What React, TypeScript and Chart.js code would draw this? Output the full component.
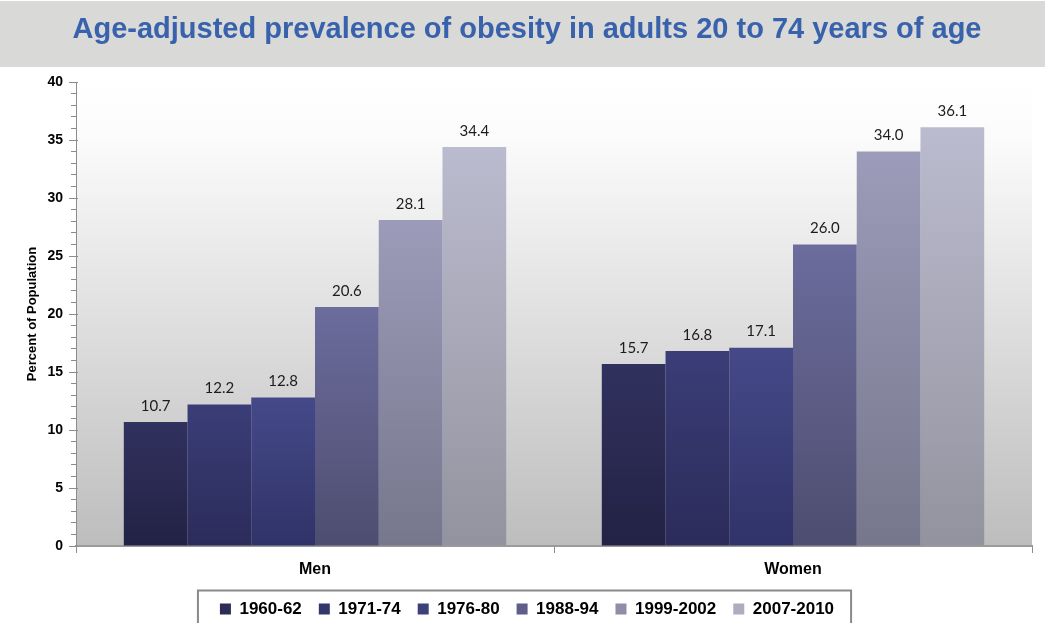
import React, { useEffect, useRef } from "react";
import { Chart, registerables } from "chart.js";

Chart.register(...registerables);

// ---- data ----
const categories = ["Men", "Women"];
const periods = ["1960-62", "1971-74", "1976-80", "1988-94", "1999-2002", "2007-2010"];
// prevalence (%) per survey period, [Men, Women]
const p1960 = [10.7, 15.7];
const p1971 = [12.2, 16.8];
const p1976 = [12.8, 17.1];
const p1988 = [20.6, 26.0];
const p1999 = [28.1, 34.0];
const p2007 = [34.4, 36.1];
const seriesValues = [p1960, p1971, p1976, p1988, p1999, p2007];

const yMin = 0;
const yMax = 40;
const yMajorStep = 5;

const titleText = "Age-adjusted prevalence of obesity in adults 20 to 74 years of age";
const yTitle = "Percent of Population";

// ---- styling ----
const barTop = ["#31315f", "#3a3d77", "#454988", "#6c6c9d", "#9c9cba", "#bbbbcf"];
const barBottom = ["#222245", "#2b2c5a", "#303368", "#4d4d70", "#76768c", "#93939f"];
const swatch = ["#2c2c57", "#34376c", "#3d4179", "#5e5e88", "#8e8ea8", "#adadbf"];
const FONT = "'Liberation Sans', Arial, sans-serif";

const backdrop = {
  id: "backdrop",
  beforeDraw(chart: any) {
    const { ctx, chartArea, width, height } = chart;
    ctx.save();
    ctx.fillStyle = "#ffffff";
    ctx.fillRect(0, 0, width, height);
    // header band behind the title
    ctx.fillStyle = "#d9d9d7";
    ctx.fillRect(0, 1, width, 66);
    // plot area wash
    const g = ctx.createLinearGradient(0, chartArea.top, 0, chartArea.bottom);
    g.addColorStop(0, "#ffffff");
    g.addColorStop(0.12, "#fbfbfb");
    g.addColorStop(0.5, "#e0e0e0");
    g.addColorStop(1, "#bdbdbd");
    ctx.fillStyle = g;
    ctx.fillRect(chartArea.left, chartArea.top, chartArea.right - chartArea.left, chartArea.bottom - chartArea.top);
    ctx.restore();
  },
};

const valueLabels = {
  id: "valueLabels",
  afterDatasetsDraw(chart: any) {
    const { ctx } = chart;
    ctx.save();
    ctx.font = "15px Lato, 'Open Sans', sans-serif";
    ctx.fillStyle = "#1c1c1c";
    ctx.textAlign = "center";
    ctx.textBaseline = "middle";
    chart.data.datasets.forEach((ds: any, i: number) => {
      const meta = chart.getDatasetMeta(i);
      meta.data.forEach((bar: any, j: number) => {
        const v = ds.data[j] as number;
        ctx.fillText(v.toFixed(1), bar.x, bar.y - 16);
      });
    });
    ctx.restore();
  },
};

// longer marks for the labelled ticks, crossing the axis line
const majorTicks = {
  id: "majorTicks",
  afterDraw(chart: any) {
    const { ctx } = chart;
    const y = chart.scales.y;
    ctx.save();
    ctx.strokeStyle = "#8c8c8c";
    ctx.lineWidth = 1;
    for (let v = yMin; v <= yMax; v += yMajorStep) {
      const py = Math.round(y.getPixelForValue(v)) + 0.5;
      ctx.beginPath();
      ctx.moveTo(y.right - 7, py);
      ctx.lineTo(y.right + 2, py);
      ctx.stroke();
    }
    ctx.restore();
  },
};

// frame around the legend row
const legendFrame = {
  id: "legendFrame",
  afterDraw(chart: any) {
    const lg = chart.legend;
    if (!lg || !lg.legendHitBoxes || !lg.legendHitBoxes.length) return;
    const boxes = lg.legendHitBoxes;
    const first = boxes[0];
    const last = boxes[boxes.length - 1];
    const left = first.left - 22;
    const right = last.left + last.width + 17;
    const top = first.top - 10;
    const { ctx } = chart;
    ctx.save();
    ctx.strokeStyle = "#8a8a8a";
    ctx.lineWidth = 2;
    ctx.strokeRect(left, top, right - left, chart.height - top + 10);
    ctx.restore();
  },
};

export default function App() {
  const canvasRef = useRef<HTMLCanvasElement | null>(null);

  useEffect(() => {
    if (!canvasRef.current) return;
    const chart = new Chart(canvasRef.current, {
      type: "bar",
      data: {
        labels: categories,
        datasets: periods.map((label, i) => ({
          label,
          data: seriesValues[i],
          backgroundColor: (c: any) => {
            const ch = c.chart;
            if (c.type !== "data" || !ch.chartArea || !c.parsed) return swatch[i];
            const ys = ch.scales.y;
            const top = ys.getPixelForValue(c.parsed.y);
            const bottom = ys.getPixelForValue(0);
            const g = ch.ctx.createLinearGradient(0, top, 0, bottom);
            g.addColorStop(0, barTop[i]);
            g.addColorStop(1, barBottom[i]);
            return g;
          },
          borderWidth: 0,
          categoryPercentage: 0.8,
          barPercentage: 1.0,
        })),
      },
      options: {
        animation: false,
        responsive: true,
        maintainAspectRatio: false,
        devicePixelRatio: 1,
        events: [],
        layout: { padding: { left: 22, right: 13, top: 0, bottom: 12.5 } },
        plugins: {
          title: {
            display: true,
            text: titleText,
            color: "#3962ad",
            font: { family: FONT, size: 29, weight: "bold", lineHeight: 1.2 },
            padding: { top: 13, bottom: 34.2 },
          },
          legend: {
            position: "bottom",
            labels: {
              boxWidth: 11,
              boxHeight: 11,
              padding: 17,
              color: "#111111",
              font: { family: FONT, size: 17, weight: "bold" },
              generateLabels: () =>
                periods.map((p, i) => ({
                  text: p,
                  fillStyle: swatch[i],
                  strokeStyle: swatch[i],
                  lineWidth: 0,
                  hidden: false,
                  datasetIndex: i,
                })),
            },
          },
          tooltip: { enabled: false },
        },
        scales: {
          x: {
            offset: true,
            grid: {
              offset: true,
              drawOnChartArea: false,
              drawTicks: true,
              tickLength: 7,
              tickColor: "#8c8c8c",
            },
            border: { color: "#9a9a9a", width: 2 },
            ticks: {
              color: "#000000",
              padding: 7,
              font: { family: FONT, size: 16, weight: "bold" },
            },
            afterFit: (s: any) => {
              s.height = 37.5;
            },
          },
          y: {
            min: yMin,
            max: yMax,
            afterBuildTicks: (s: any) => {
              const t: { value: number }[] = [];
              for (let v = yMin; v <= yMax; v += 1) t.push({ value: v });
              s.ticks = t;
            },
            grid: {
              drawOnChartArea: false,
              drawTicks: true,
              tickLength: 5,
              tickColor: "#8c8c8c",
            },
            border: { color: "#8c8c8c", width: 1 },
            ticks: {
              autoSkip: false,
              color: "#000000",
              padding: 8,
              font: { family: FONT, size: 14, weight: "bold" },
              callback: (v: any) => (Number(v) % yMajorStep === 0 ? String(v) : ""),
            },
            title: {
              display: true,
              text: yTitle,
              color: "#000000",
              font: { family: FONT, size: 13, weight: "bold" },
              padding: { top: 3, bottom: 0 },
            },
            afterFit: (s: any) => {
              s.width = 54;
            },
          },
        },
      },
      plugins: [backdrop, valueLabels, majorTicks, legendFrame],
    });
    return () => chart.destroy();
  }, []);

  return (
    <div style={{ position: "fixed", left: 0, top: 0, width: 1045, height: 623, overflow: "hidden", background: "#fff" }}>
      <div style={{ position: "relative", width: 1045, height: 640 }}>
        <canvas ref={canvasRef} />
      </div>
    </div>
  );
}
